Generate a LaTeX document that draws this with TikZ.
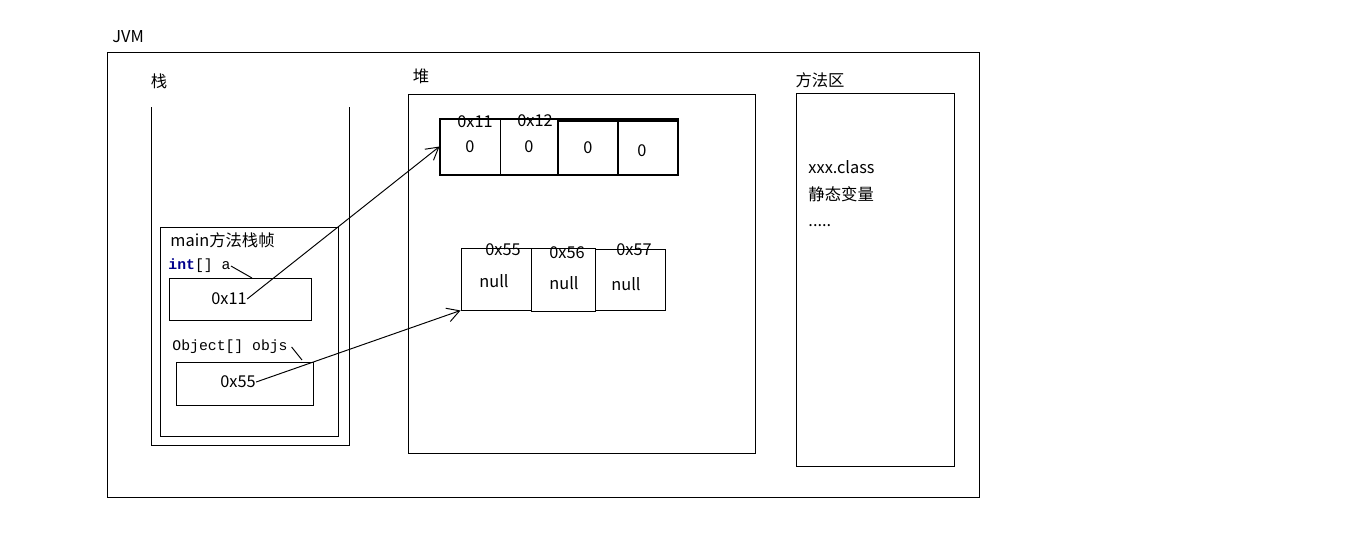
\documentclass[tikz,border=0pt]{standalone}
\usepackage{fontspec}
\setmainfont{Noto Sans CJK SC}
\setmonofont{Liberation Mono}
\usepackage{xcolor}
\usetikzlibrary{arrows.meta,positioning}
\definecolor{kwblue}{RGB}{0,0,140}

\begin{document}
\begin{tikzpicture}[x=0.02cm,y=-0.02cm,line width=0.55pt,>={Straight Barb[length=7pt,width=8pt]},
  txt/.style={inner sep=0pt,font=\fontsize{9.3}{11}\selectfont},
  code/.style={inner sep=0pt,font=\fontsize{8.4}{10}\selectfont\ttfamily},
  box/.style={draw,inner sep=0pt},
  cell/.style={draw,inner sep=0pt,font=\fontsize{9.3}{11}\selectfont}]

	\useasboundingbox (0,0) rectangle (1359,549);

	% JVM
	\node [txt,anchor=west] at (112,37) (jvm) {JVM};
	\draw (107,52) rectangle (979,497);

	% stack
	\node [txt] at (159,81) (stack) {栈};
	\draw (151,107) -- (151,445) -- (349,445) -- (349,107);
	\draw (160,227) rectangle (338,436);
	\node [txt,anchor=west] at (170,240) (frame) {main方法栈帧};

	\node [code,anchor=west] at (168,266) (avar) {\textcolor{kwblue}{\textbf{int}}[] a};
	\node [box,minimum width=2.84cm,minimum height=0.84cm] at (240,299) (abox) {};
	\node [txt] at (229,299) (aval) {0x11};
	\draw (avar.east) -- (252,278);

	\node [code,anchor=west] at (172,347) (ovar) {Object[] objs};
	\draw ([xshift=2pt]ovar.east) -- (302,360);
	\node [box,minimum width=2.74cm,minimum height=0.86cm] at (244.5,383.5) (obox) {};
	\node [txt] at (238,382) (oval) {0x55};

	% heap
	\node [txt] at (421,76) (heap) {堆};
	\draw (408,94) rectangle (755,453);

	\node [cell,minimum width=1.2cm,minimum height=1.1cm] at (470,146.5) (c11) {0};
	\node [cell,minimum width=1.16cm,minimum height=1.1cm] at (529,146.5) (c12) {0};
	\node [cell,minimum width=1.2cm,minimum height=1.08cm,line width=0.9pt] at (588,148) (c13) {0};
	\node [cell,minimum width=1.2cm,minimum height=1.08cm,line width=0.9pt] at (648,148) (c14) {};
	\node [txt] at (642,151) (z14) {0};
	\draw [line width=1.1pt] (440,119) rectangle (678,175);
	\node [txt] at (475,122) (l11) {0x11};
	\node [txt] at (535,121) (l12) {0x12};

	\node [cell,minimum width=1.4cm,minimum height=1.24cm] at (496,279) (n55) {};
	\node [cell,minimum width=1.28cm,minimum height=1.26cm] at (563,279.5) (n56) {};
	\node [cell,minimum width=1.4cm,minimum height=1.22cm] at (630,279.5) (n57) {};
	\node [txt] at (494,281) (v55) {null};
	\node [txt] at (564,283) (v56) {null};
	\node [txt] at (626,284) (v57) {null};
	\node [txt] at (503,250) (l55) {0x55};
	\node [txt] at (567,253) (l56) {0x56};
	\node [txt] at (634,250) (l57) {0x57};

	% method area
	\node [txt] at (820,80) (meth) {方法区};
	\draw (796,93) rectangle (954,466);
	\node [txt,anchor=west] at (808,167) (cls) {xxx.class};
	\node [txt,anchor=west] at (808,194) (stat) {静态变量};
	\node [txt,anchor=west] at (808,226) (dots) {.....};

	% references
	\draw [->] (aval.east) -- (c11.west);
	\draw [->] (oval.east) -- (n55.south west);

\end{tikzpicture}
\end{document}
